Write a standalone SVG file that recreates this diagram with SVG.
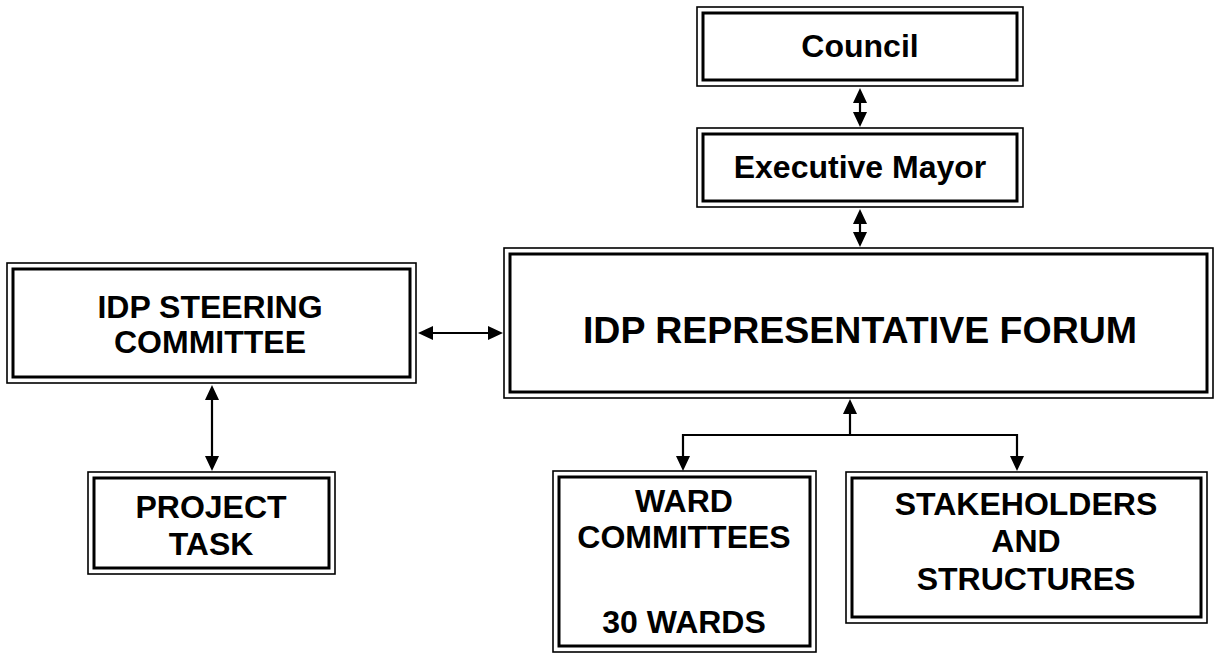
<svg xmlns="http://www.w3.org/2000/svg" width="1218" height="653" viewBox="0 0 1218 653">
  <style>
    .outer { fill: #fff; stroke: #000; stroke-width: 1.6; }
    .inner { fill: none; stroke: #000; stroke-width: 3; }
    .lbl { font-family: "Liberation Sans", Arial, sans-serif; font-weight: bold; font-size: 32px; fill: #000; text-anchor: middle; }
    .big { font-size: 37.5px; }
    .link { fill: none; stroke: #000; stroke-width: 2.2; }
  </style>
  <defs>
    <!-- filled triangular arrowhead; tip sits 8px past the path end -->
    <marker id="head" viewBox="0 0 15 14" refX="7" refY="7" markerWidth="15" markerHeight="14" markerUnits="userSpaceOnUse" orient="auto-start-reverse">
      <path d="M0,0 L15,7 L0,14 Z" fill="#000"/>
    </marker>
  </defs>
  <rect width="1218" height="653" fill="#fff"/>

  <!-- connectors -->
  <g id="connectors">
    <path class="link" d="M860,96 L860,119" marker-start="url(#head)" marker-end="url(#head)"/>
    <path class="link" d="M860,217 L860,239" marker-start="url(#head)" marker-end="url(#head)"/>
    <path class="link" d="M426,333 L495,333" marker-start="url(#head)" marker-end="url(#head)"/>
    <path class="link" d="M212,393 L212,463" marker-start="url(#head)" marker-end="url(#head)"/>
    <path class="link" d="M850,435 L850,407" marker-end="url(#head)"/>
    <path class="link" d="M683,463 L683,435 L1017,435 L1017,463" marker-start="url(#head)" marker-end="url(#head)"/>
  </g>

  <g id="council">
    <rect class="outer" x="697" y="7" width="326" height="79"/>
    <rect class="inner" x="703" y="13" width="314" height="67"/>
    <text class="lbl" x="860" y="57">Council</text>
  </g>

  <g id="executive-mayor">
    <rect class="outer" x="697" y="128" width="326" height="79"/>
    <rect class="inner" x="703" y="134" width="314" height="67"/>
    <text class="lbl" x="860" y="178">Executive Mayor</text>
  </g>

  <g id="idp-forum">
    <rect class="outer" x="504" y="248" width="709" height="150"/>
    <rect class="inner" x="510" y="254" width="697" height="138"/>
    <text class="lbl big" x="860" y="343">IDP REPRESENTATIVE FORUM</text>
  </g>

  <g id="steering-committee">
    <rect class="outer" x="7" y="263" width="409" height="120"/>
    <rect class="inner" x="13" y="269" width="397" height="108"/>
    <text class="lbl" x="210" y="318">IDP STEERING</text>
    <text class="lbl" x="210" y="353">COMMITTEE</text>
  </g>

  <g id="project-task">
    <rect class="outer" x="88" y="472" width="247" height="102"/>
    <rect class="inner" x="94" y="478" width="235" height="90"/>
    <text class="lbl" x="211" y="518">PROJECT</text>
    <text class="lbl" x="211" y="555">TASK</text>
  </g>

  <g id="ward-committees">
    <rect class="outer" x="553" y="471" width="263" height="181"/>
    <rect class="inner" x="559" y="477" width="251" height="169"/>
    <text class="lbl" x="684" y="512">WARD</text>
    <text class="lbl" x="684" y="548">COMMITTEES</text>
    <text class="lbl" x="684" y="633">30 WARDS</text>
  </g>

  <g id="stakeholders">
    <rect class="outer" x="846" y="472" width="361" height="151"/>
    <rect class="inner" x="852" y="478" width="349" height="139"/>
    <text class="lbl" x="1026" y="515">STAKEHOLDERS</text>
    <text class="lbl" x="1026" y="552">AND</text>
    <text class="lbl" x="1026" y="590">STRUCTURES</text>
  </g>
</svg>
